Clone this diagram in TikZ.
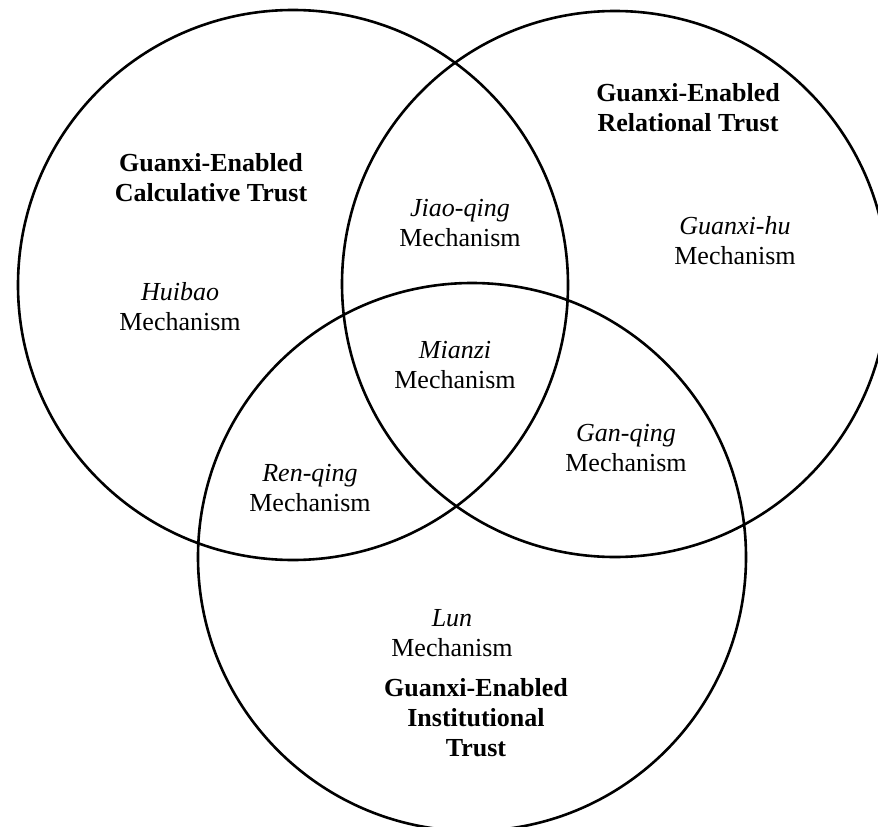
\documentclass[tikz,border=0pt]{standalone}
\usepackage{fontspec}
\setmainfont{Liberation Serif}
\begin{document}
\begin{tikzpicture}[x=1pt,y=-1pt,
  mech/.style={align=center,font=\fontsize{26}{30}\selectfont},
  trust/.style={align=center,font=\fontsize{26}{30}\selectfont\bfseries},
  ring/.style={line width=2.6pt}]
\useasboundingbox (0,0) rectangle (878,827);
\clip (0,0) rectangle (878,827);
% the three kinds of trust
\draw[ring] (293,285) circle [radius=275];
\draw[ring] (615,284) circle [radius=273];
\draw[ring] (472,557) circle [radius=274];
\node[trust] (calc) at (211,178) {Guanxi-Enabled\\Calculative Trust};
\node[trust] (relat) at (688,108) {Guanxi-Enabled\\Relational Trust};
\node[trust] (inst) at (476,718) {Guanxi-Enabled\\Institutional\\Trust};
% mechanisms
\node[mech] (huibao) at (180,307) {\textit{Huibao}\\Mechanism};
\node[mech] (jiaoqing) at (460,223) {\textit{Jiao-qing}\\Mechanism};
\node[mech] (guanxihu) at (735,241) {\textit{Guanxi-hu}\\Mechanism};
\node[mech] (mianzi) at (455,365) {\textit{Mianzi}\\Mechanism};
\node[mech] (renqing) at (310,488) {\textit{Ren-qing}\\Mechanism};
\node[mech] (ganqing) at (626,448) {\textit{Gan-qing}\\Mechanism};
\node[mech] (lun) at (452,633) {\textit{Lun}\\Mechanism};
\end{tikzpicture}
\end{document}
